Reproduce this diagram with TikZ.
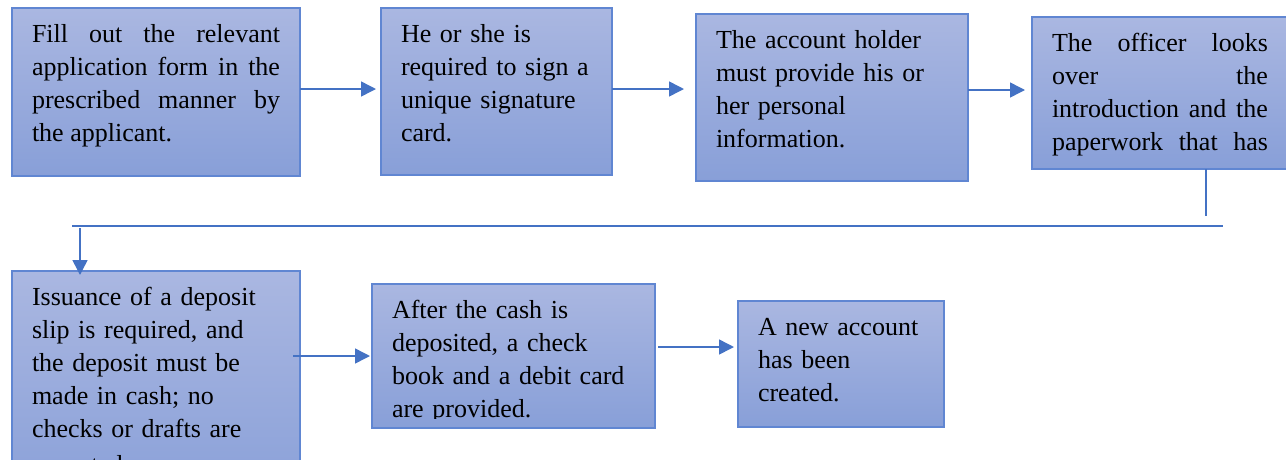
\documentclass[tikz,border=0pt]{standalone}
\usepackage{fontspec}
\setmainfont{Liberation Serif}
\usetikzlibrary{arrows.meta}

\definecolor{stagetop}{RGB}{170,183,225}
\definecolor{stagebot}{RGB}{136,159,216}
\definecolor{stageline}{RGB}{96,134,210}
\definecolor{flowline}{RGB}{68,114,196}

\tikzset{
  stage/.style={draw=stageline, line width=1.3pt, top color=stagetop, bottom color=stagebot, anchor=north west, inner sep=0pt, outer sep=0pt},
  stagetext/.style={anchor=north west, inner sep=0pt, minimum width=0pt, minimum height=0pt, text width=#1, font=\fontsize{26}{33}\selectfont},
  flow/.style={draw=flowline, line width=1.5pt, -{Triangle[length=15pt,width=15pt]}},
  link/.style={draw=flowline, line width=1.5pt},
}

% text of a stage, clipped to the box (a little above its bottom)
\newcommand{\stagepic}[3][left]{%
  \clip ([yshift=10pt]path picture bounding box.south west) rectangle (path picture bounding box.north east);
  \node[stagetext=#2, align=#1] at ([xshift=20pt,yshift=-11.4pt]path picture bounding box.north west) {\strut #3};}

\begin{document}
\begin{tikzpicture}[x=1pt,y=-1pt]
  \clip (0,0) rectangle (1286,459);  % page size of the reference

  % First row of stages
  \node[stage, minimum width=288pt, minimum height=168pt,
    path picture={\stagepic[justify]{248pt}{Fill out the relevant\linebreak application form in the\linebreak prescribed manner by\linebreak the applicant.}}] (b1) at (12,8) {};
  \node[stage, minimum width=231pt, minimum height=167pt,
    path picture={\stagepic{205pt}{He or she is\\ required to sign a\\ unique signature\\ card.}}] (b2) at (381,8) {};
  \node[stage, minimum width=272pt, minimum height=167pt,
    path picture={\stagepic{245pt}{The account holder\\ must provide his or\\ her personal\\ information.}}] (b3) at (696,14) {};
  \node[stage, minimum width=256pt, minimum height=152pt,
    path picture={\stagepic[justify]{216pt}{The officer looks\linebreak over the\linebreak introduction and the\linebreak paperwork that has\linebreak\null}}] (b4) at (1032,17) {};

  % Second row of stages
  \node[stage, minimum width=288pt, minimum height=240pt,
    path picture={\stagepic{262pt}{Issuance of a deposit\\ slip is required, and\\ the deposit must be\\ made in cash; no\\ checks or drafts are\\[3pt] accepted.}}] (b5) at (12,271) {};
  \node[stage, minimum width=283pt, minimum height=144pt,
    path picture={\stagepic{258pt}{After the cash is\\ deposited, a check\\ book and a debit card\\ are provided.}}] (b6) at (372,284) {};
  \node[stage, minimum width=206pt, minimum height=126pt,
    path picture={\stagepic{182pt}{A new account\\ has been\\ created.}}] (b7) at (738,301) {};

  % Arrows of the first row
  \draw[flow, shorten >=5pt] ([yshift=3pt]b1.east) -- ([yshift=3pt]b1.east -| b2.west);
  \draw[flow, shorten >=12pt] ([yshift=2.5pt]b2.east) -- ([yshift=2.5pt]b2.east -| b3.west);
  \draw[flow, shorten >=7pt] ([yshift=7.5pt]b3.east) -- ([yshift=7.5pt]b3.east -| b4.west);

  % Elbow from the first row down to the second
  \coordinate (c1) at (1206,216);
  \coordinate (c2) at (1223,226);
  \coordinate (c3) at (72,226);
  \coordinate (c4) at (80,228);
  \draw[link] (b4.south -| c1) -- (c1);
  \draw[link] (c3) -- (c2);
  \draw[flow, shorten >=-4pt] (c4) -- (b5.north -| c4);

  % Arrows of the second row
  \draw[flow, shorten <=-7pt, shorten >=2pt] (b6.west -| b5.east) -- (b6.west);
  \draw[flow, shorten <=3pt, shorten >=4pt] ([yshift=9pt]b6.east) -- ([yshift=9pt]b6.east -| b7.west);
\end{tikzpicture}
\end{document}
